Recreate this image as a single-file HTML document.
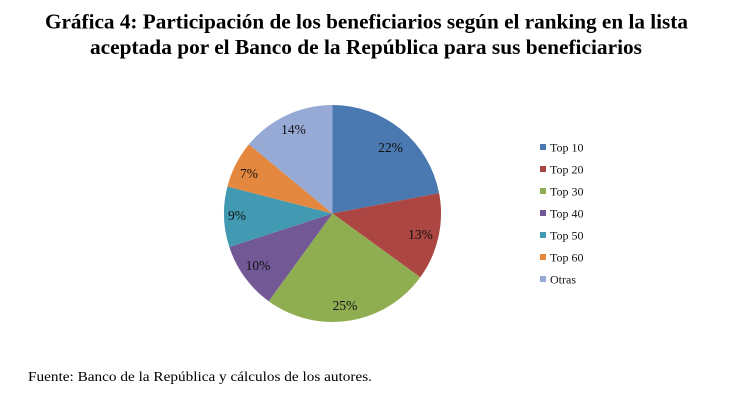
<!DOCTYPE html>
<html>
<head>
<meta charset="utf-8">
<style>
html,body{margin:0;padding:0;background:#fff;}
svg{display:block;}
</style>
</head>
<body>
<svg width="731" height="406" viewBox="0 0 731 406" xmlns="http://www.w3.org/2000/svg">
<rect width="731" height="406" fill="#fff"/>
<g font-family="'Liberation Serif', serif" font-weight="bold" font-size="21" fill="#000">
<text x="45" y="28.5" textLength="643" lengthAdjust="spacingAndGlyphs">Gráfica 4: Participación de los beneficiarios según el ranking en la lista</text>
<text x="90" y="54" textLength="552" lengthAdjust="spacingAndGlyphs">aceptada por el Banco de la República para sus beneficiarios</text>
</g>
<g>
<path d="M332.5,213.5 L332.5,105 A108.5,108.5 0 0 1 439.08,193.17 Z" fill="#4A78B0"/>
<path d="M332.5,213.5 L439.08,193.17 A108.5,108.5 0 0 1 420.28,277.28 Z" fill="#AC4642"/>
<path d="M332.5,213.5 L420.28,277.28 A108.5,108.5 0 0 1 268.72,301.28 Z" fill="#8FAD51"/>
<path d="M332.5,213.5 L268.72,301.28 A108.5,108.5 0 0 1 229.31,247.03 Z" fill="#725996"/>
<path d="M332.5,213.5 L229.31,247.03 A108.5,108.5 0 0 1 227.41,186.52 Z" fill="#4299B2"/>
<path d="M332.5,213.5 L227.41,186.52 A108.5,108.5 0 0 1 248.90,144.34 Z" fill="#E3883E"/>
<path d="M332.5,213.5 L248.90,144.34 A108.5,108.5 0 0 1 332.5,105 Z" fill="#96AAD5"/>
</g>
<g font-family="'Liberation Serif', serif" font-size="13.5" fill="#111" text-anchor="middle">
<text x="390.5" y="152">22%</text>
<text x="420.5" y="239">13%</text>
<text x="345" y="310">25%</text>
<text x="258" y="270">10%</text>
<text x="237" y="220">9%</text>
<text x="249" y="178">7%</text>
<text x="293.5" y="134">14%</text>
</g>
<g>
<rect x="540" y="144" width="6" height="6" fill="#4A78B0"/>
<rect x="540" y="166" width="6" height="6" fill="#AC4642"/>
<rect x="540" y="188" width="6" height="6" fill="#8FAD51"/>
<rect x="540" y="210" width="6" height="6" fill="#725996"/>
<rect x="540" y="232" width="6" height="6" fill="#4299B2"/>
<rect x="540" y="254" width="6" height="6" fill="#E3883E"/>
<rect x="540" y="276" width="6" height="6" fill="#96AAD5"/>
</g>
<g font-family="'Liberation Serif', serif" font-size="12" fill="#111">
<text x="550" y="151.5">Top 10</text>
<text x="550" y="173.5">Top 20</text>
<text x="550" y="195.5">Top 30</text>
<text x="550" y="217.5">Top 40</text>
<text x="550" y="239.5">Top 50</text>
<text x="550" y="261.5">Top 60</text>
<text x="550" y="283.5">Otras</text>
</g>
<text x="28" y="381" font-family="'Liberation Serif', serif" font-size="14" fill="#000" textLength="344" lengthAdjust="spacingAndGlyphs">Fuente: Banco de la República y cálculos de los autores.</text>
</svg>
</body>
</html>
